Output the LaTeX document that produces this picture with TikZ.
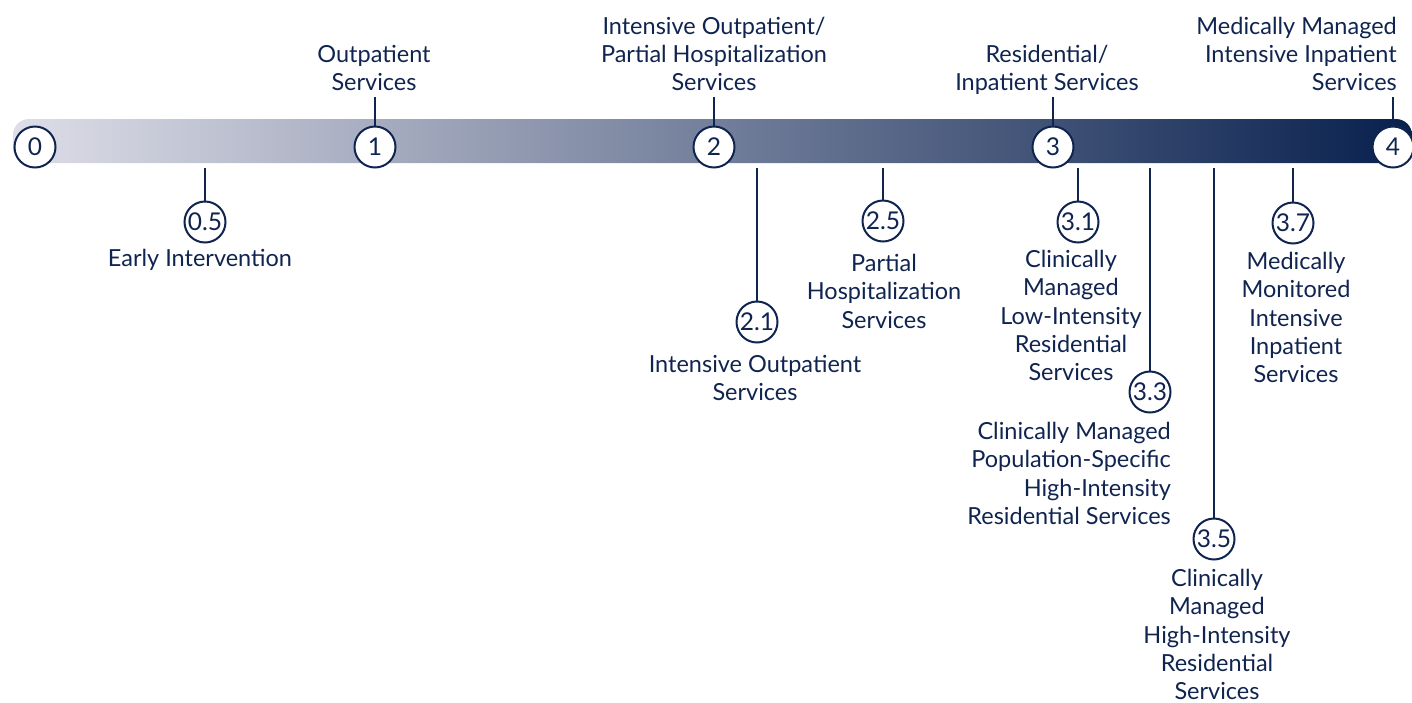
\documentclass[tikz,border=0pt]{standalone}
\usepackage{fontspec}
\setmainfont{Lato}
\definecolor{navy}{RGB}{16,36,80}
\definecolor{barlight}{RGB}{222,222,232}
\definecolor{bardark}{RGB}{8,32,78}
\begin{document}
\begin{tikzpicture}[x=1pt,y=-1pt,
  lvl/.style={circle,draw=navy,fill=white,line width=2pt,minimum size=41pt,
    inner sep=0pt,text=navy,font=\fontsize{24.5}{28}\selectfont},
  lbl/.style={text=navy,inner sep=0pt,align=center,
    font=\fontsize{23.5}{28.3}\selectfont},
  tick/.style={draw=navy,line width=2pt}]
\useasboundingbox (0,0) rectangle (1412,702);

% continuum bar
\shade[left color=barlight,right color=bardark,rounded corners=16pt]
  (13,119) rectangle (1412,163);

% main levels on the bar
\node[lvl] (l0) at (35,147) {0};
\node[lvl] (l1) at (375,147) {1};
\node[lvl] (l2) at (714,147) {2};
\node[lvl] (l3) at (1053,147) {3};
\node[lvl] (l4) at (1393,147) {4};

% sub-levels below the bar
\node[lvl] (l05) at (205,222) {0.5};
\node[lvl] (l21) at (757,322) {2.1};
\node[lvl] (l25) at (883,221) {2.5};
\node[lvl] (l31) at (1078,222) {3.1};
\node[lvl] (l33) at (1150,392) {3.3};
\node[lvl] (l35) at (1214,539) {3.5};
\node[lvl] (l37) at (1293,223) {3.7};

% labels above the bar
\node[lbl,anchor=south] (a1) at (374,91) {Outpatient\\Services};
\node[lbl,anchor=south] (a2) at (714,91) {Intensive Outpatient/\\Partial Hospitalization\\Services};
\node[lbl,anchor=south] (a3) at (1047,95) {Residential/\\Inpatient Services};
\node[lbl,anchor=south east,align=right] (a4) at (1397,91) {Medically Managed\\Intensive Inpatient\\Services};

% labels below the sub-levels
\node[lbl,anchor=north] (b05) at (200,249) {Early Intervention};
\node[lbl,anchor=north] (b21) at (755,355) {Intensive Outpatient\\Services};
\node[lbl,anchor=north] (b25) at (884,254) {Partial\\Hospitalization\\Services};
\node[lbl,anchor=north] (b31) at (1071,250) {Clinically\\Managed\\Low-Intensity\\Residential\\Services};
\node[lbl,anchor=north east,align=right] (b33) at (1171,422) {Clinically Managed\\Population-Specific\\High-Intensity\\Residential Services};
\node[lbl,anchor=north] (b35) at (1217,569) {Clinically\\Managed\\High-Intensity\\Residential\\Services};
\node[lbl,anchor=north] (b37) at (1296,252) {Medically\\Monitored\\Intensive\\Inpatient\\Services};

% tick ends
\coordinate (u1) at (375,97);
\coordinate (u2) at (714,97);
\coordinate (u3) at (1053,97);
\coordinate (u4) at (1393,97);
\coordinate (d05) at (205,168);
\coordinate (d21) at (757,168);
\coordinate (d25) at (883,168);
\coordinate (d31) at (1078,168);
\coordinate (d33) at (1150,168);
\coordinate (d35) at (1214,168);
\coordinate (d37) at (1293,168);

% ticks
\draw[tick] (u1) -- (l1);
\draw[tick] (u2) -- (l2);
\draw[tick] (u3) -- (l3);
\draw[tick] (u4) -- (l4);
\draw[tick] (d05) -- (l05);
\draw[tick] (d21) -- (l21);
\draw[tick] (d25) -- (l25);
\draw[tick] (d31) -- (l31);
\draw[tick] (d33) -- (l33);
\draw[tick] (d35) -- (l35);
\draw[tick] (d37) -- (l37);
\end{tikzpicture}
\end{document}
